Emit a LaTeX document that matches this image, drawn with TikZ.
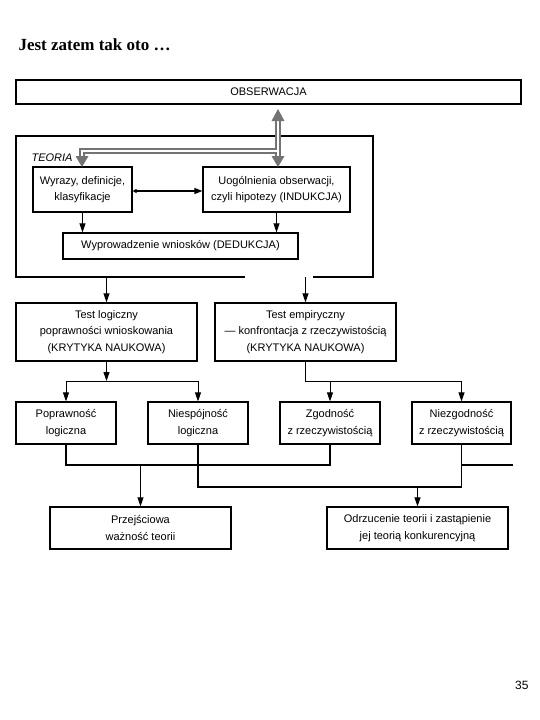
\documentclass[tikz,border=0pt]{standalone}
\usepackage{fontspec}
\newfontfamily\arialfont{Liberation Sans}
\newfontfamily\timesfont{Liberation Serif}
\usetikzlibrary{arrows.meta}

\begin{document}
\begin{tikzpicture}[x=1pt, y=-1pt,
	blok/.style={draw, line width=1.2pt, inner sep=0pt, align=center,
		font=\arialfont\fontsize{11}{16.5}\selectfont},
	pil/.style={line width=0.9pt, -{Triangle[length=9pt, width=6pt]}},
	linia/.style={line width=1.5pt},
	rura/.style={line width=6pt, color=black!55, line join=miter},
	rurasrodek/.style={line width=2.2pt, color=white},
	grot/.style={fill=black!55}]
		%%%%% START %%%%%
		\useasboundingbox (0,0) rectangle (540,720);
		
		\node[anchor=base west, font=\timesfont\bfseries\fontsize{17}{20}\selectfont] (tytul) at (15,50) {Jest zatem tak oto …};
		\node[anchor=base east, font=\arialfont\fontsize{12}{14}\selectfont] (strona) at (532,689) {35};
		
		\node[blok, minimum width=505pt, minimum height=24pt] (obs) at (268.5,92) {OBSERWACJA};
		
		% ramka teorii
		\draw[line width=1.2pt] (245,277) -- (16,277) -- (16,136) -- (373,136) -- (373,277) -- (313,277);
		\node[anchor=west, font=\arialfont\itshape\fontsize{11}{13}\selectfont] (teoria) at (28,158) {TEORIA};
		
		\node[blok, minimum width=99pt, minimum height=45pt] (wyr) at (82.5,189.5) {Wyrazy, definicje,\\klasyfikacje};
		\node[blok, minimum width=147pt, minimum height=45pt] (uog) at (276.5,189.5) {Uogólnienia obserwacji,\\czyli hipotezy (INDUKCJA)};
		\node[blok, minimum width=235pt, minimum height=26pt] (ded) at (180.5,246) {Wyprowadzenie wniosków (DEDUKCJA)};
		
		\draw[line width=1.1pt, {Triangle[length=4pt, width=4pt]}-{Triangle[length=8pt, width=6pt]}] (wyr.east |- 0,191) -- (uog.west |- 0,191);
		\draw[pil] (wyr.south) -- (wyr.south |- ded.north);
		\draw[pil] (uog.south) -- (uog.south |- ded.north);
		
		% szara podwojna strzalka
		\coordinate (rg) at (278,120);
		\coordinate (rd) at (278,158);
		\coordinate (rw) at (278,151);
		\coordinate (rl) at (82,151);
		\coordinate (rld) at (82,158);
		\draw[rura] (rg) -- (rd);
		\draw[rura] (rw) -- (rl) -- (rld);
		\draw[rurasrodek] (278,119) -- (278,159);
		\draw[rurasrodek] (278,151) -- (82,151) -- (82,159);
		\fill[grot] (278,109) -- (271.5,121) -- (284.5,121) -- cycle;
		\fill[grot] (278,167) -- (271.5,156) -- (284.5,156) -- cycle;
		\fill[grot] (82,167) -- (75.5,156) -- (88.5,156) -- cycle;
		
		\node[blok, minimum width=181pt, minimum height=58pt] (tl) at (106.5,332) {Test logiczny\\poprawności wnioskowania\\(KRYTYKA NAUKOWA)};
		\node[blok, minimum width=181pt, minimum height=58pt] (te) at (305.5,332) {Test empiryczny\\— konfrontacja z rzeczywistością\\(KRYTYKA NAUKOWA)};
		
		\draw[pil] (tl.north |- 0,277) -- (tl.north);
		\draw[pil] (te.north |- 0,277) -- (te.north);
		
		\node[blok, minimum width=100pt, minimum height=42pt] (pop) at (66,423) {Poprawność\\logiczna};
		\node[blok, minimum width=100pt, minimum height=42pt] (nsp) at (198,423) {Niespójność\\logiczna};
		\node[blok, minimum width=100pt, minimum height=42pt] (zg) at (330,423) {Zgodność\\z rzeczywistością};
		\node[blok, minimum width=99pt, minimum height=42pt] (nzg) at (461.5,423) {Niezgodność\\z rzeczywistością};
		
		\draw[pil] (tl.south) -- (tl.south |- 0,381);
		\draw[line width=0.9pt] (pop.north |- 0,381) -- (nsp.north |- 0,381);
		\draw[pil] (pop.north |- 0,381) -- (pop.north);
		\draw[pil] (nsp.north |- 0,381) -- (nsp.north);
		\draw[line width=0.9pt] (te.south) -- (te.south |- 0,381) -- (nzg.north |- 0,381);
		\draw[pil] (zg.north |- 0,381) -- (zg.north);
		\draw[pil] (nzg.north |- 0,381) -- (nzg.north);
		
		\node[blok, minimum width=181pt, minimum height=42pt] (prz) at (140.5,528) {Przejściowa\\ważność teorii};
		\node[blok, minimum width=181pt, minimum height=42pt] (odr) at (417.5,528) {Odrzucenie teorii i zastąpienie\\jej teorią konkurencyjną};
		
		\coordinate (koniec) at (513,465);
		\draw[linia] (pop.south) -- (pop.south |- 0,465) -- (zg.south |- 0,465) -- (zg.south);
		\draw[linia] (nsp.south) -- (nsp.south |- 0,487) -- (nzg.south |- 0,487) -- (nzg.south);
		\draw[linia] (nzg.south |- 0,465) -- (koniec);
		\draw[pil] (prz.north |- 0,465) -- (prz.north);
		\draw[pil] (odr.north |- 0,487) -- (odr.north);
		
		%%%%% END %%%%%
\end{tikzpicture}
\end{document}
